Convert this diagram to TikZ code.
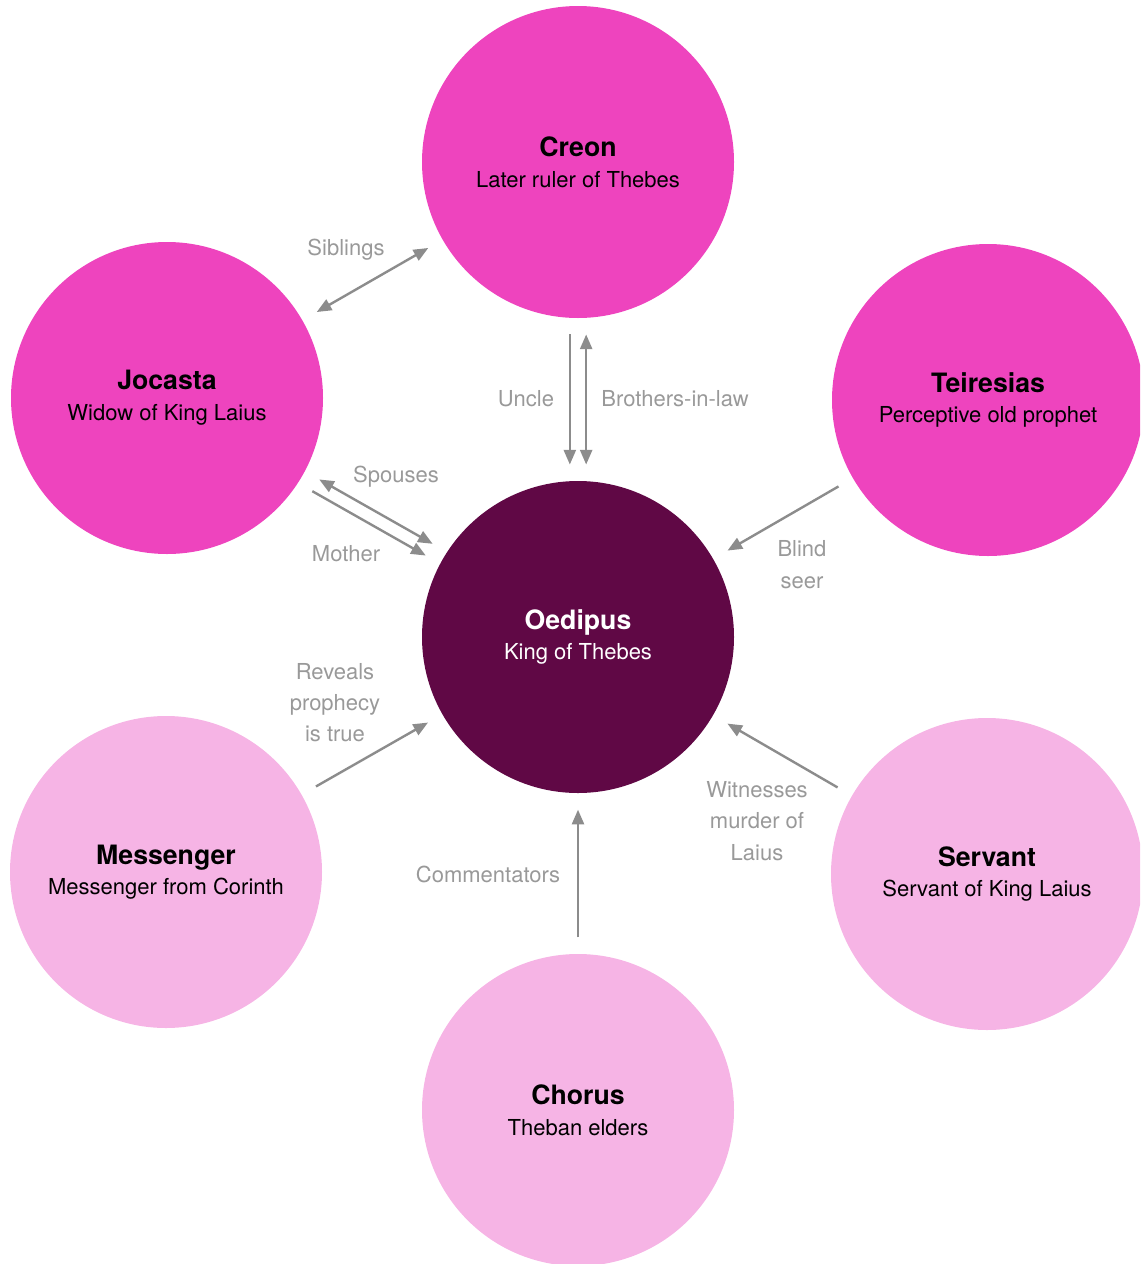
\documentclass[tikz,border=0pt]{standalone}
\usepackage{fontspec}
\setmainfont{TeX Gyre Heros}
\usetikzlibrary{arrows.meta}
\definecolor{hot}{HTML}{EE44BE}
\definecolor{plum}{HTML}{600845}
\definecolor{blush}{HTML}{F6B4E5}
\definecolor{wire}{HTML}{8C8C8C}
\definecolor{note}{HTML}{999999}
\newcommand{\who}[2]{{\fontsize{20}{23}\selectfont\bfseries #1}\\#2}
\begin{document}
\begin{tikzpicture}[x=0.75pt,y=-0.75pt,
    role/.style={circle,minimum size=234pt,inner sep=0pt,outer sep=0pt,align=center,
      font=\fontsize{16.5}{23}\selectfont},
    link/.style={draw=wire,line width=1.8pt,shorten <=12.5pt,shorten >=12.5pt},
    tag/.style={text=note,align=center,font=\fontsize{16.5}{23.5}\selectfont},
    >={Triangle[length=11pt,width=9pt]}]
    \useasboundingbox (0,0) rectangle (1140,1264);
    \clip (0,0) rectangle (1140,1264);
    % characters
    \node[role,fill=hot](creon)at(578,162){\who{Creon}{Later ruler of Thebes}};
    \node[role,fill=hot](jocasta)at(167,398){\who{Jocasta}{Widow of King Laius}};
    \node[role,fill=hot](teiresias)at(988,400){\who{Teiresias}{Perceptive old prophet}};
    \node[role,fill=plum,text=white](oedipus)at(578,637){\who{Oedipus}{King of Thebes}};
    \node[role,fill=blush](messenger)at(166,872){\who{Messenger}{Messenger from Corinth}};
    \node[role,fill=blush](servant)at(987,874){\who{Servant}{Servant of King Laius}};
    \node[role,fill=blush](chorus)at(578,1110){\who{Chorus}{Theban elders}};
    % relations
    \draw[link,<->](jocasta)--(creon);
    \draw[link,->](creon.-93)--(oedipus.93);
    \draw[link,<->](creon.-87)--(oedipus.87);
    \draw[link,<->](jocasta.-28)--(oedipus.147.5);
    \draw[link,->](jocasta.-33)--(oedipus.152.7);
    \draw[link,->](teiresias)--(oedipus);
    \draw[link,->](messenger)--(oedipus);
    \draw[link,->](servant)--(oedipus);
    \draw[link,->](chorus)--(oedipus);
    % labels
    \node[tag](siblings)at(346,250){Siblings};
    \node[tag](uncle)at(526,399){Uncle};
    \node[tag](inlaw)at(675,399){Brothers-in-law};
    \node[tag](spouses)at(396,477){Spouses};
    \node[tag](mother)at(346,554){Mother};
    \node[tag](blind)at(802,564.5){Blind\\seer};
    \node[tag](reveals)at(335,702.5){Reveals\\prophecy\\is true};
    \node[tag](witness)at(757,821){Witnesses\\murder of\\Laius};
    \node[tag](comment)at(488,874){Commentators};
  \end{tikzpicture}
\end{document}
